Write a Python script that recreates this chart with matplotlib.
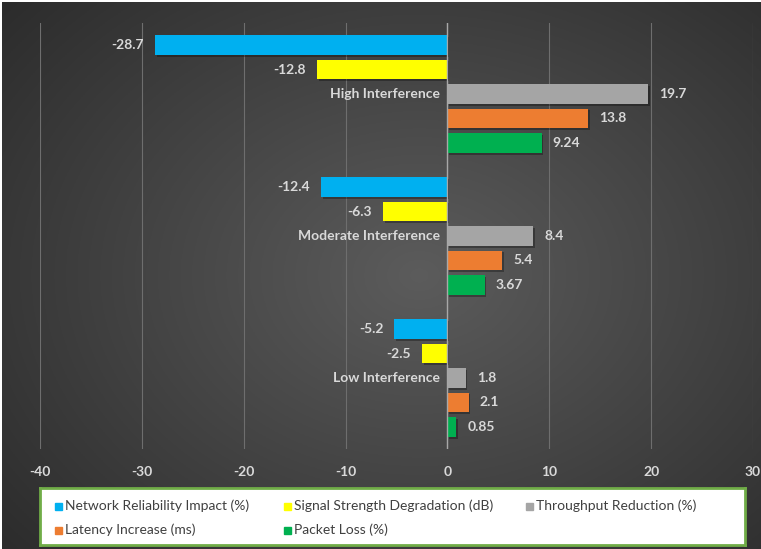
import numpy as np
import matplotlib
matplotlib.use("Agg")
import matplotlib.pyplot as plt
from matplotlib import patheffects as pe
from matplotlib.patches import Rectangle

categories = ["High Interference", "Moderate Interference", "Low Interference"]
series_names = [
    "Network Reliability Impact (%)",
    "Signal Strength Degradation (dB)",
    "Throughput Reduction (%)",
    "Latency Increase (ms)",
    "Packet Loss (%)",
]
reliability = [-28.7, -12.4, -5.2]
signal = [-12.8, -6.3, -2.5]
throughput = [19.7, 8.4, 1.8]
latency = [13.8, 5.4, 2.1]
packet_loss = [9.24, 3.67, 0.85]
value_labels = [
    ["-28.7", "-12.4", "-5.2"],
    ["-12.8", "-6.3", "-2.5"],
    ["19.7", "8.4", "1.8"],
    ["13.8", "5.4", "2.1"],
    ["9.24", "3.67", "0.85"],
]
colors = ["#00b0f0", "#ffff00", "#a5a5a5", "#ed7d31", "#00b050"]
x_ticks = [-40, -30, -20, -10, 0, 10, 20, 30]

series = [reliability, signal, throughput, latency, packet_loss]

W, H = 761, 549
fig = plt.figure(figsize=(W / 100, H / 100), dpi=100)
fig.patch.set_facecolor("white")

# radial gradient backdrop
bg = fig.add_axes([2 / W, 0, 1 - 2 / W, 1 - 2 / H])
bg.set_axis_off()
yy, xx = np.mgrid[0:1:300j, 0:1:420j]
r = np.sqrt(((xx - 0.55) / 0.85) ** 2 + ((yy - 0.5) / 0.9) ** 2)
lum = np.clip(0.36 - 0.22 * r, 0.14, 0.36)
img = np.dstack([lum, lum, lum])
bg.imshow(img, aspect="auto", extent=[0, 1, 0, 1], origin="lower")
bg.set_xlim(0, 1)
bg.set_ylim(0, 1)

ax = fig.add_axes([40 / W, 1 - 449 / H, (753 - 40) / W, (449 - 23) / H])
ax.set_facecolor("none")
ax.set_zorder(2)

n = len(series)
step = 0.1725
bar_h = 0.14
y_base = np.arange(len(categories))
shadow = [pe.SimplePatchShadow(offset=(1.2, -1.2), shadow_rgbFace="black", alpha=0.3), pe.Normal()]

for i, (vals, col) in enumerate(zip(series, colors)):
    offs = (i - (n - 1) / 2) * step
    ypos = y_base + offs
    bars = ax.barh(ypos, vals, height=bar_h, color=col, zorder=3, label=series_names[i])
    for b in bars:
        b.set_path_effects(shadow)
    for y, v, lab in zip(ypos, vals, value_labels[i]):
        if v < 0:
            ax.annotate(lab, (v, y), xytext=(-8, 0), textcoords="offset points",
                        ha="right", va="center", color="#d9d9d9", fontsize=10,
                        fontweight="bold", family="Lato", zorder=5)
        else:
            ax.annotate(lab, (v, y), xytext=(8, 0), textcoords="offset points",
                        ha="left", va="center", color="#d9d9d9", fontsize=10,
                        fontweight="bold", family="Lato", zorder=5)

# category labels sit just left of the zero line
for y, cat in zip(y_base, categories):
    ax.annotate(cat, (0, y), xytext=(-5, 0), textcoords="offset points",
                ha="right", va="center", color="#d9d9d9", fontsize=10,
                fontweight="bold", family="Lato", zorder=5)

ax.set_xlim(-40, 30)
ax.set_ylim(len(categories) - 0.5, -0.5)
ax.set_xticks(x_ticks)
ax.set_xticklabels([str(t) for t in x_ticks], color="#d9d9d9", fontsize=10,
                   fontweight="bold", family="Lato")
ax.set_yticks([])
ax.tick_params(axis="x", length=0, pad=12)
ax.grid(axis="x", color="#6e6e6e", linewidth=0.8, zorder=0)
ax.axvline(0, color="#a8a8a8", linewidth=1.0, zorder=4)
for s in ax.spines.values():
    s.set_visible(False)

# legend panel
leg_ax = fig.add_axes([40 / W, 1 - 545 / H, (745 - 40) / W, (545 - 488) / H])
leg_ax.set_xlim(0, 745 - 40)
leg_ax.set_ylim(545, 488)
leg_ax.set_xticks([])
leg_ax.set_yticks([])
leg_ax.set_facecolor("white")
for s in leg_ax.spines.values():
    s.set_color("#70ad47")
    s.set_linewidth(2)
entries = [
    (58, 506), (287, 506), (529, 506),
    (58, 530), (287, 530),
]
for (px, py), name, col in zip(entries, series_names, colors):
    leg_ax.add_patch(Rectangle((px - 40 - 3.5, py - 3.5), 7, 7, color=col))
    leg_ax.text(px - 40 + 7, py, name, ha="left", va="center", fontsize=10,
                color="#404040", family="Lato")

fig.savefig("out.png", dpi=100)
